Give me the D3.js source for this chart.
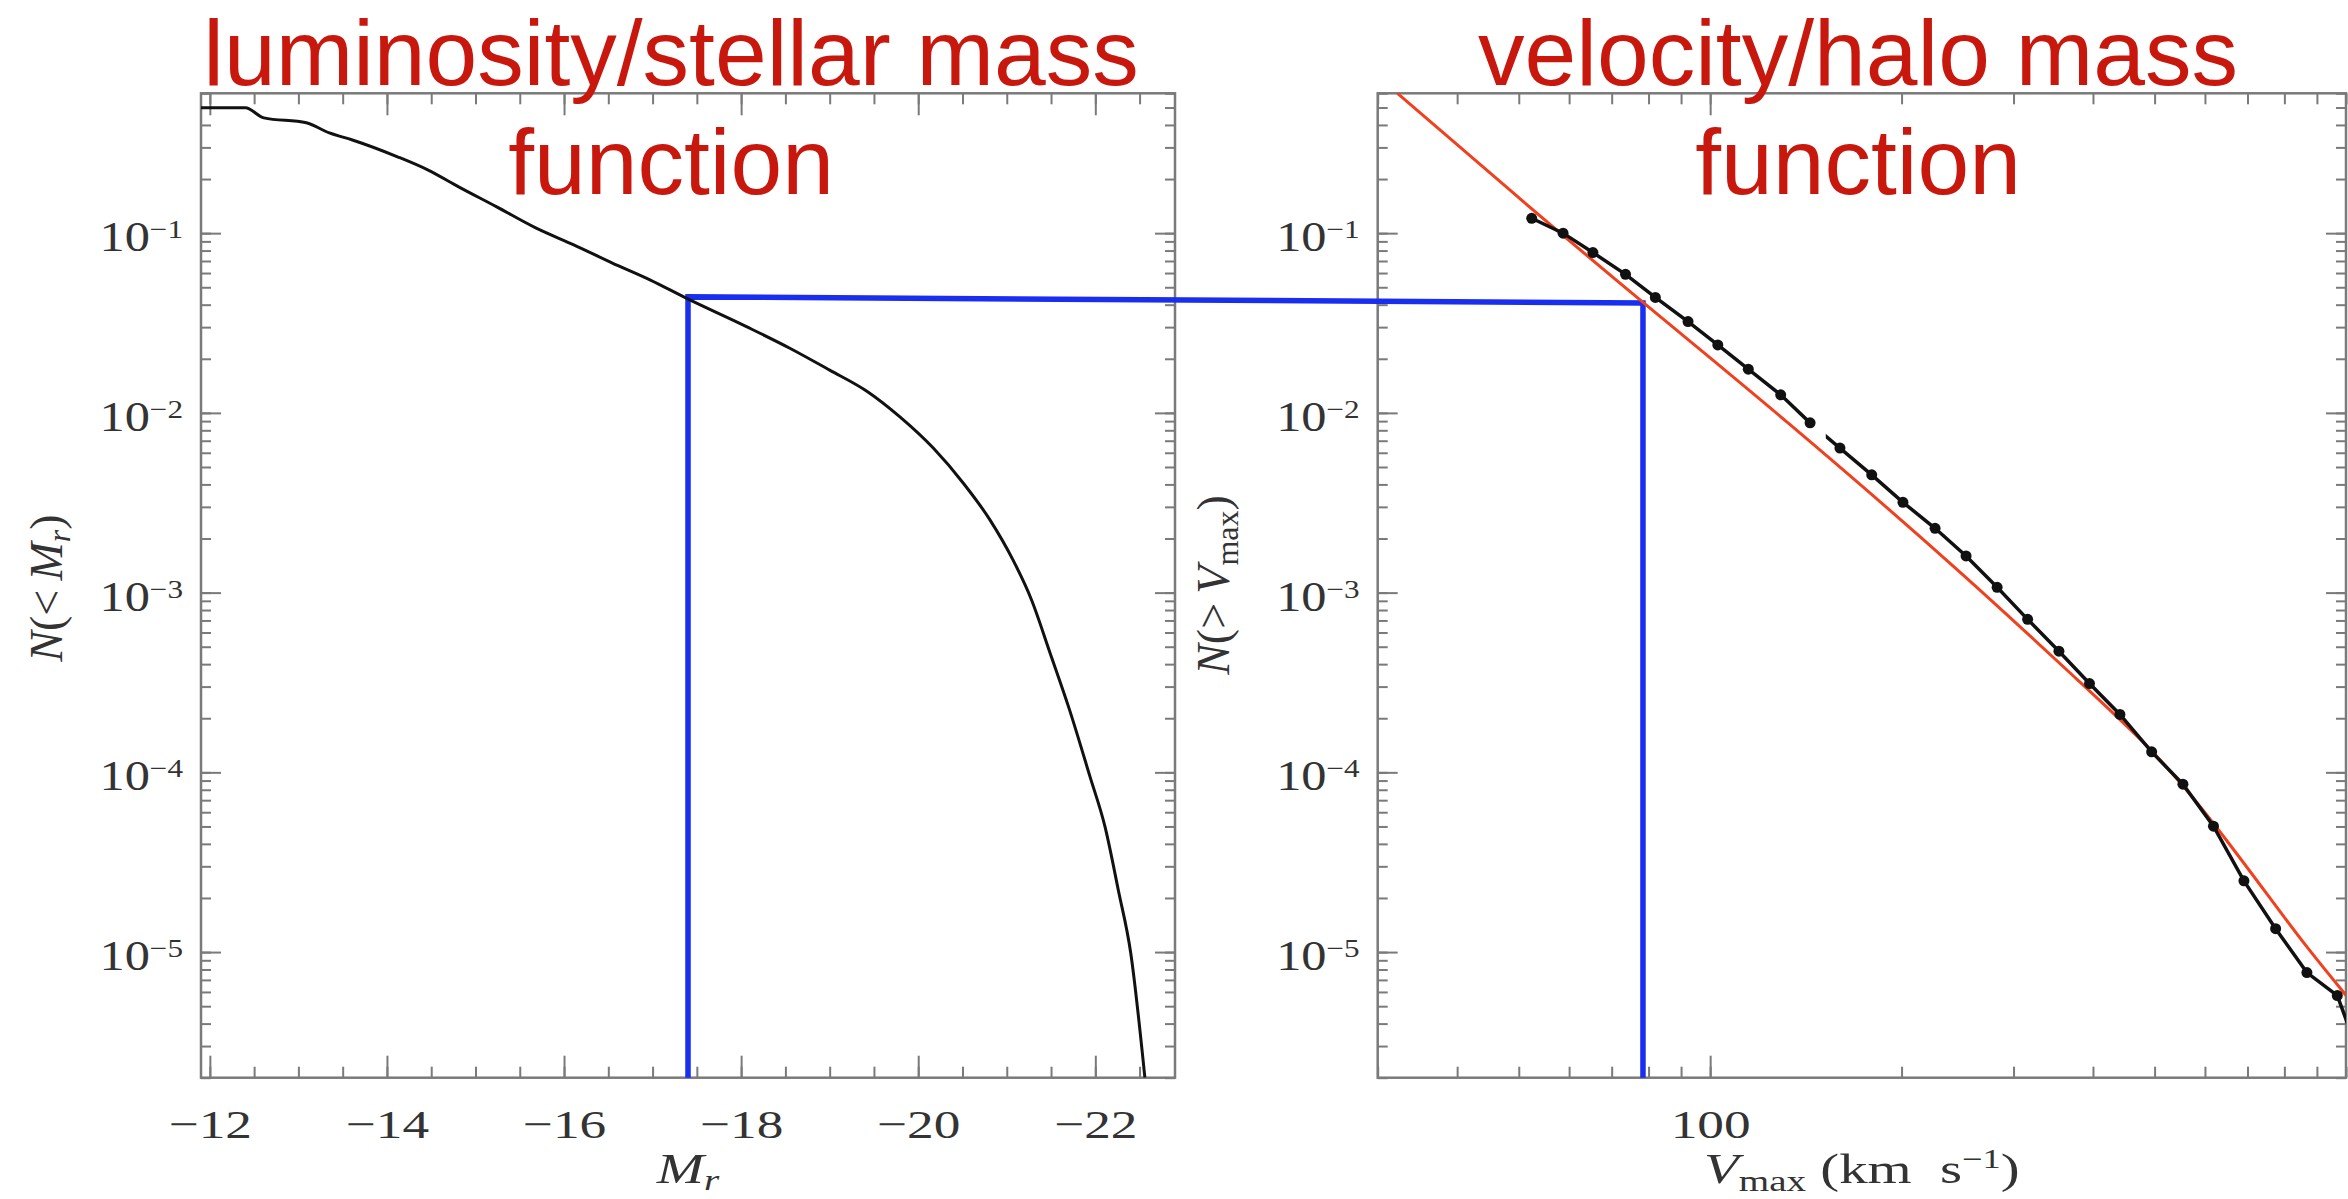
<!DOCTYPE html>
<html>
<head>
<meta charset="utf-8">
<title>luminosity / velocity function matching</title>
<script src="https://cdn.jsdelivr.net/npm/d3@7"></script>
<style>
  body { margin: 0; background: #fff; }
  .serif { font-family: "Liberation Serif", "Times New Roman", serif; fill: #333; }
  .title { font-family: "Liberation Sans", Arial, Helvetica, sans-serif; font-size: 93px; fill: #c8180e; text-anchor: middle; }
</style>
</head>
<body>
<div id="chart"></div>
<script>
/*-- data --*/

// left panel: cumulative luminosity function N(<M_r)
var magR = [-11.90, -12.40, -12.61, -13.09, -13.35, -13.61, -14.12, -14.46, -14.81, -15.24,
            -15.68, -16.11, -16.54, -16.97, -17.38, -18.06, -18.55, -19.00, -19.42, -19.79,
            -20.17, -20.51, -20.81, -21.07, -21.28, -21.49, -21.71, -21.94, -22.11, -22.26,
            -22.40, -22.56];
var nLum = [0.498, 0.498, 0.438, 0.411, 0.361, 0.330, 0.266, 0.225, 0.181, 0.140,
            0.107, 0.0861, 0.0684, 0.0550, 0.0435, 0.0302, 0.0229, 0.0173, 0.0132, 0.00953,
            0.00637, 0.00406, 0.00254, 0.00152, 0.00091, 0.00046, 0.000222, 9.46e-5, 4.97e-5, 2.21e-5,
            9.89e-6, 2.0e-6];

// right panel: cumulative velocity function N(>V_max), simulation points
var vmax = [52.4, 58.7, 65.4, 73.6, 82.0, 92.3, 102.8, 114.8, 129.1, 143.6,
            160.0, 179.5, 201.0, 225.8, 252.6, 282.7, 315.7, 353.6, 395.0, 441.0,
            494.7, 554.0, 618.8, 691.0, 775.0, 868.0, 969.0, 1080];
var nVel = [0.121, 0.100, 0.078, 0.0590, 0.0439, 0.0322, 0.0239, 0.0175, 0.0126, 0.00880,
            0.00637, 0.00452, 0.00318, 0.00228, 0.00160, 0.00107, 7.10e-4, 4.72e-4, 3.12e-4, 2.10e-4,
            1.30e-4, 8.59e-5, 5.02e-5, 2.49e-5, 1.35e-5, 7.69e-6, 5.73e-6, 2.0e-6];
// the plotted line is broken between these two V_max values
var lineGap = [144, 152];

// right panel: fitted curve (red)
var vFit = [32.2, 50.4, 78.4, 128.8, 253.2, 389.5, 499.5, 618, 775, 868, 1007];
var nFit = [0.601, 0.153, 0.0409, 0.00975, 0.00123, 2.96e-4, 1.32e-4, 5.33e-5, 1.81e-5, 1.06e-5, 5.58e-6];

// abundance matching connector (blue)
var matchMag = -17.40;
var matchV = 78.4;
var matchN = [0.0442, 0.0409];   // left end, right end

// axis ticks
var nTicks = [1e-1, 1e-2, 1e-3, 1e-4, 1e-5];
var magTicks = [-12, -14, -16, -18, -20, -22];
var vTicks = [100];

var titleLeft = ["luminosity/stellar mass", "function"];
var titleRight = ["velocity/halo mass", "function"];

/*-- layout --*/
var W = 2348, H = 1199;
var plotTop = 93.3, plotBottom = 1077.7;
var frameColor = "#7a7a7a";

var svg = d3.select("#chart").append("svg")
  .attr("width", W)
  .attr("height", H);

var y = d3.scaleLog().domain([2e-6, 0.6]).range([plotBottom, plotTop]);
var xL = d3.scaleLinear().domain([-11.9, -22.9]).range([201, 1175]);
var xR = d3.scaleLog().domain([30, 1000]).range([1377.7, 2346]);

// draws one set of inward ticks (no labels, no domain line)
function tickSet(axis, transform) {
  var g = svg.append("g").attr("transform", transform).call(axis);
  g.select(".domain").remove();
  g.selectAll("text").remove();
  g.selectAll("line").attr("stroke", frameColor).attr("stroke-width", 2);
  return g;
}

function drawFrame(x, xMinor, xMajor) {
  var x0 = x.range()[0], x1 = x.range()[1];

  // bottom & top
  tickSet(d3.axisTop(x).tickValues(xMinor).tickSize(11), "translate(0," + plotBottom + ")");
  tickSet(d3.axisTop(x).tickValues(xMajor).tickSize(22), "translate(0," + plotBottom + ")");
  tickSet(d3.axisBottom(x).tickValues(xMinor).tickSize(11), "translate(0," + plotTop + ")");
  tickSet(d3.axisBottom(x).tickValues(xMajor).tickSize(22), "translate(0," + plotTop + ")");
  // left & right
  tickSet(d3.axisRight(y).tickValues(y.ticks()).tickSize(10), "translate(" + x0 + ",0)");
  tickSet(d3.axisRight(y).tickValues(nTicks).tickSize(20), "translate(" + x0 + ",0)");
  tickSet(d3.axisLeft(y).tickValues(y.ticks()).tickSize(10), "translate(" + x1 + ",0)");
  tickSet(d3.axisLeft(y).tickValues(nTicks).tickSize(20), "translate(" + x1 + ",0)");

  svg.append("rect")
    .attr("x", x0).attr("y", plotTop)
    .attr("width", x1 - x0).attr("height", plotBottom - plotTop)
    .attr("fill", "none")
    .attr("stroke", frameColor)
    .attr("stroke-width", 2.5);

  // y labels 10^-n
  var yl = svg.append("g")
    .attr("transform", "translate(" + x0 + ",0)")
    .call(d3.axisLeft(y).tickValues(nTicks).tickSize(0));
  yl.select(".domain").remove();
  yl.selectAll("text")
    .text(null)
    .attr("class", "serif")
    .attr("font-size", 42)
    .attr("x", -15)
    .attr("dy", "0.42em")
    .attr("transform", "scale(1.2,1)")
    .each(function(d) {
      var t = d3.select(this);
      t.append("tspan").text("10");
      t.append("tspan")
        .attr("dy", -13)
        .attr("font-size", 26)
        .text("\u2212" + (-Math.round(Math.log10(d))));
    });
}

drawFrame(xL, xL.ticks(22), magTicks);
drawFrame(xR, xR.ticks(), vTicks);

// x tick labels
function xLabels(x, values) {
  var g = svg.append("g")
    .attr("transform", "translate(0," + plotBottom + ")")
    .call(d3.axisBottom(x).tickValues(values).tickSize(0).tickFormat(d3.format("d")));
  g.select(".domain").remove();
  g.selectAll("text")
    .attr("class", "serif")
    .attr("font-size", 41)
    .attr("y", 60)
    .attr("dy", 0)
    .attr("transform", "scale(1.3,1)");
}
xLabels(xL, magTicks);
xLabels(xR, vTicks);

/*-- axis titles --*/
var mLab = svg.append("text").attr("class", "serif")
  .attr("transform", "translate(" + (xL.range()[0] + xL.range()[1]) / 2 + ",1183) scale(1.35,1)")
  .attr("font-size", 42)
  .attr("text-anchor", "middle");
mLab.append("tspan").attr("font-style", "italic").text("M");
mLab.append("tspan").attr("font-style", "italic").attr("font-size", 29).attr("dy", 7).text("r");

var vLab = svg.append("text").attr("class", "serif")
  .attr("transform", "translate(" + (xR.range()[0] + xR.range()[1]) / 2 + ",1183) scale(1.35,1)")
  .attr("font-size", 42)
  .attr("text-anchor", "middle");
vLab.append("tspan").attr("font-style", "italic").text("V");
vLab.append("tspan").attr("font-size", 29).attr("dy", 8).text("max");
vLab.append("tspan").attr("dy", -8).text(" (km\u2002s");
vLab.append("tspan").attr("font-size", 27).attr("dy", -15).text("\u22121");
vLab.append("tspan").attr("dy", 15).text(")");

var nLabL = svg.append("text").attr("class", "serif")
  .attr("transform", "translate(62,588) rotate(-90)")
  .attr("font-size", 46)
  .attr("text-anchor", "middle");
nLabL.append("tspan").attr("font-style", "italic").text("N");
nLabL.append("tspan").text("(<\u2009");
nLabL.append("tspan").attr("font-style", "italic").text("M");
nLabL.append("tspan").attr("font-style", "italic").attr("font-size", 32).attr("dy", 8).text("r");
nLabL.append("tspan").attr("dy", -8).text(")");

var nLabR = svg.append("text").attr("class", "serif")
  .attr("transform", "translate(1229,585) rotate(-90)")
  .attr("font-size", 46)
  .attr("text-anchor", "middle");
nLabR.append("tspan").attr("font-style", "italic").text("N");
nLabR.append("tspan").text("(>\u2009");
nLabR.append("tspan").attr("font-style", "italic").text("V");
nLabR.append("tspan").attr("font-size", 32).attr("dy", 9).text("max");
nLabR.append("tspan").attr("dy", -9).text(")");

/*-- clip paths --*/
var defs = svg.append("defs");
defs.append("clipPath").attr("id", "clipL").append("rect")
  .attr("x", xL.range()[0]).attr("y", plotTop)
  .attr("width", xL.range()[1] - xL.range()[0]).attr("height", plotBottom - plotTop);
defs.append("clipPath").attr("id", "clipR").append("rect")
  .attr("x", xR.range()[0]).attr("y", plotTop)
  .attr("width", xR.range()[1] - xR.range()[0]).attr("height", plotBottom - plotTop);
var gapClip = defs.append("clipPath").attr("id", "clipGap");
gapClip.append("rect")
  .attr("x", xR.range()[0]).attr("y", plotTop)
  .attr("width", xR(lineGap[0]) - xR.range()[0]).attr("height", plotBottom - plotTop);
gapClip.append("rect")
  .attr("x", xR(lineGap[1])).attr("y", plotTop)
  .attr("width", xR.range()[1] - xR(lineGap[1])).attr("height", plotBottom - plotTop);

/*-- blue matching line --*/
svg.append("path")
  .attr("d", d3.line()([
    [xL(matchMag), plotBottom],
    [xL(matchMag), y(matchN[0])],
    [xR(matchV), y(matchN[1])],
    [xR(matchV), plotBottom]
  ]))
  .attr("fill", "none")
  .attr("stroke", "#1a2ef0")
  .attr("stroke-width", 5.5);

/*-- left curve --*/
var lumLine = d3.line()
  .curve(d3.curveMonotoneX)
  .x(function(d, i) { return xL(magR[i]); })
  .y(function(d, i) { return y(nLum[i]); });

svg.append("path")
  .attr("clip-path", "url(#clipL)")
  .attr("d", lumLine(magR))
  .attr("fill", "none")
  .attr("stroke", "#111")
  .attr("stroke-width", 3);

/*-- right panel curves --*/
var fitLine = d3.line()
  .curve(d3.curveBasis)
  .x(function(d, i) { return xR(vFit[i]); })
  .y(function(d, i) { return y(nFit[i]); });

svg.append("path")
  .attr("clip-path", "url(#clipR)")
  .attr("d", fitLine(vFit))
  .attr("fill", "none")
  .attr("stroke", "#f0401e")
  .attr("stroke-width", 3);

var velLine = d3.line()
  .x(function(d, i) { return xR(vmax[i]); })
  .y(function(d, i) { return y(nVel[i]); });

var rightG = svg.append("g").attr("clip-path", "url(#clipR)");
rightG.append("g").attr("clip-path", "url(#clipGap)")
  .append("path")
  .attr("d", velLine(vmax))
  .attr("fill", "none")
  .attr("stroke", "#111")
  .attr("stroke-width", 3.5);

rightG.selectAll(".dot")
  .data(vmax)
.enter().append("circle")
  .attr("class", "dot")
  .attr("cx", function(d) { return xR(d); })
  .attr("cy", function(d, i) { return y(nVel[i]); })
  .attr("r", 5.5)
  .attr("fill", "#111");

/*-- titles --*/
function title(lines, cx) {
  svg.append("text").attr("class", "title").attr("x", cx).attr("y", 85).text(lines[0]);
  svg.append("text").attr("class", "title").attr("x", cx).attr("y", 194).text(lines[1]);
}
title(titleLeft, 671);
title(titleRight, 1858);
</script>
</body>
</html>
